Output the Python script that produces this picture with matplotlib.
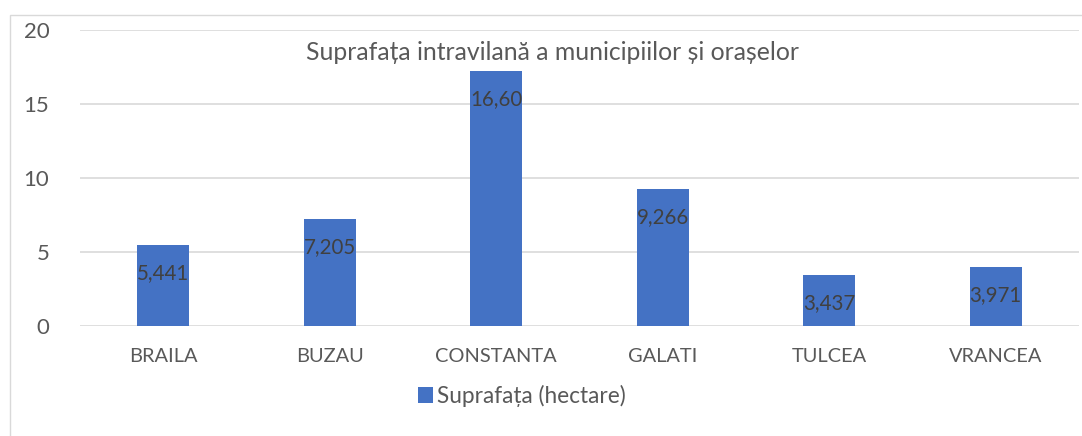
import matplotlib.pyplot as plt
from matplotlib.patches import Rectangle

plt.rcParams['font.family'] = ['Lato', 'DejaVu Sans']

categories = ["BRAILA", "BUZAU", "CONSTANTA", "GALATI", "TULCEA", "VRANCEA"]
values = [5.441, 7.205, 17.2, 9.266, 3.437, 3.971]
value_labels = ["5,441", "7,205", "16,60", "9,266", "3,437", "3,971"]

bar_color = "#4472C4"
text_color = "#595959"

fig = plt.figure(figsize=(10.82, 4.36), dpi=100)
ax = fig.add_axes([0.0739, 0.2523, 0.9233, 0.6789])

# chart frame
fig.patches.append(Rectangle((10 / 1082, -0.1), 1.2, 1 - 15 / 436 + 0.1,
                             transform=fig.transFigure, fill=False,
                             edgecolor="#d9d9d9", linewidth=1))

x = range(len(categories))
bars = ax.bar(x, values, width=0.31, color=bar_color, zorder=3,
              label="Suprafața (hectare)")

for b, lab in zip(bars, value_labels):
    ax.annotate(lab, (b.get_x() + b.get_width() / 2, b.get_height()),
                xytext=(0, -28), textcoords="offset pixels",
                ha="center", va="center", fontsize=14.8, color="#404040",
                zorder=4)

ax.set_xlim(-0.5, len(categories) - 0.5)
ax.set_ylim(0, 20)
ax.set_yticks([0, 5, 10, 15, 20])
ax.set_xticks(list(x))
ax.set_xticklabels(categories)
ax.yaxis.grid(True, color="#d9d9d9", linewidth=1.2, zorder=0)
ax.tick_params(axis="both", length=0, labelsize=14.4, labelcolor=text_color)
ax.tick_params(axis="y", labelsize=16, pad=22)
ax.tick_params(axis="x", pad=16)
for s in ax.spines.values():
    s.set_visible(False)

fig.text(0.511, 1 - 52 / 436, "Suprafața intravilană a municipiilor și orașelor",
         ha="center", va="center", fontsize=17.8, color=text_color)

fig.legend(loc="center", bbox_to_anchor=(0.482, 1 - 396 / 436), frameon=False,
           fontsize=16.3, labelcolor=text_color, handlelength=0.7,
           handleheight=0.7, handletextpad=0.15)

fig.savefig("out.png", dpi=100)
